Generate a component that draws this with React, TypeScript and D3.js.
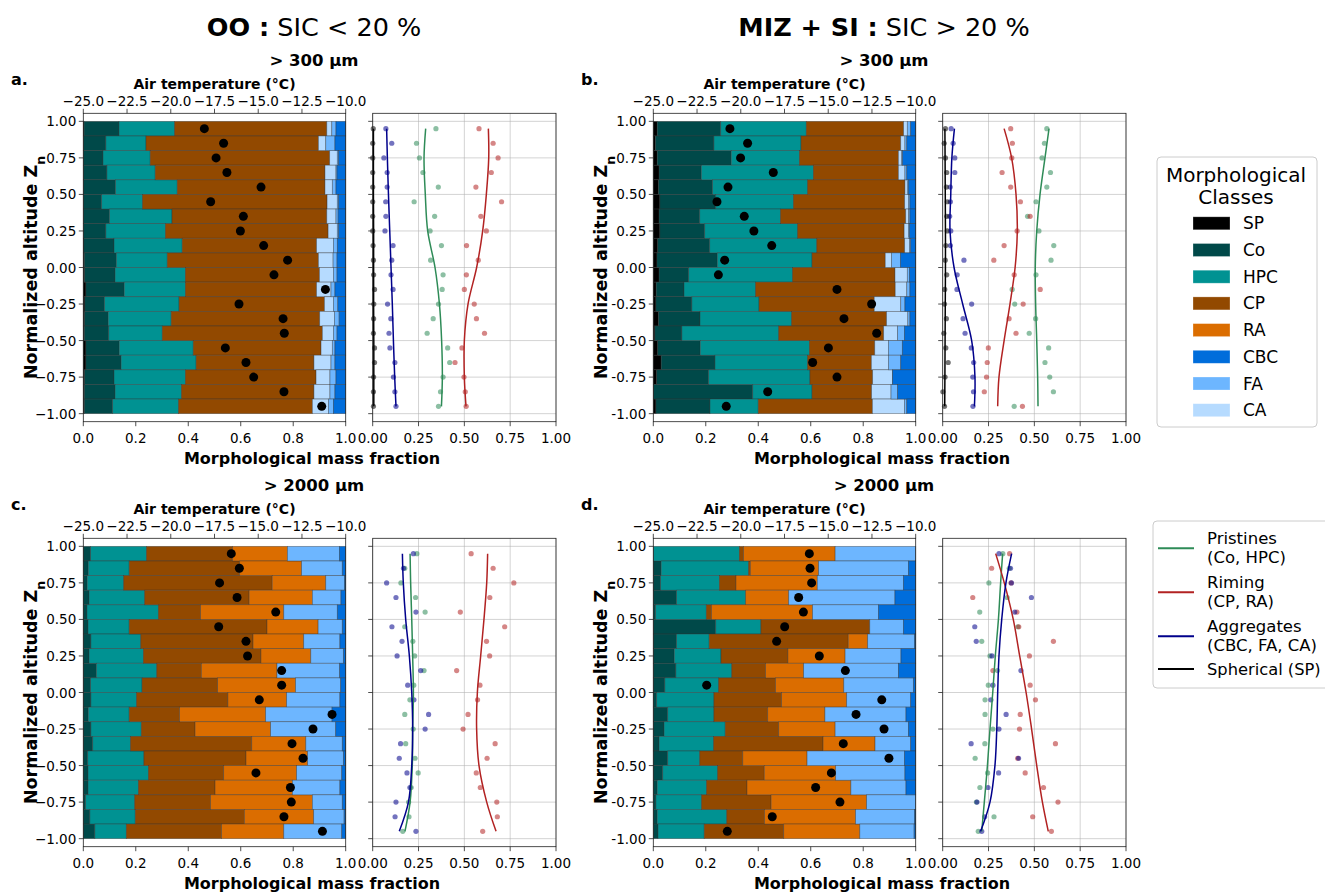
import React from "react";
import * as d3 from "d3";

// ---------- data ----------
const Z_LEVELS = [0.95, 0.85, 0.75, 0.65, 0.55, 0.45, 0.35, 0.25, 0.15, 0.05, -0.05, -0.15, -0.25, -0.35, -0.45, -0.55, -0.65, -0.75, -0.85, -0.95];
const CLASS_ORDER = ["SP", "Co", "HPC", "CP", "RA", "CA", "FA", "CBC"];
const LEGEND_CLASSES = ["SP", "Co", "HPC", "CP", "RA", "CBC", "FA", "CA"];
const CLASS_COLORS: Record<string, string> = {
  SP: "#000000", Co: "#004949", HPC: "#009292", CP: "#924900",
  RA: "#db6d00", CBC: "#006ddb", FA: "#6db6ff", CA: "#b6dbff",
};

// panel a: OO, > 300 µm
const A_SP = [0.003, 0, 0, 0, 0, 0, 0, 0, 0.002, 0.004, 0.005, 0.010, 0.006, 0.005, 0.004, 0.010, 0.010, 0.005, 0.004, 0.004];
const A_Co = [0.133, 0.086, 0.075, 0.090, 0.123, 0.070, 0.100, 0.086, 0.115, 0.122, 0.116, 0.146, 0.075, 0.090, 0.093, 0.127, 0.134, 0.112, 0.117, 0.108];
const A_HPC = [0.212, 0.153, 0.180, 0.184, 0.235, 0.156, 0.238, 0.227, 0.260, 0.194, 0.268, 0.233, 0.284, 0.240, 0.204, 0.282, 0.286, 0.272, 0.253, 0.251];
const A_CP = [0.580, 0.657, 0.684, 0.647, 0.563, 0.703, 0.590, 0.620, 0.512, 0.576, 0.511, 0.500, 0.554, 0.566, 0.610, 0.487, 0.449, 0.498, 0.505, 0.510];
const A_CA = [0.019, 0.028, 0.029, 0.042, 0.028, 0.039, 0.035, 0.035, 0.064, 0.056, 0.053, 0.055, 0.034, 0.056, 0.042, 0.043, 0.065, 0.053, 0.061, 0.061];
const A_FA = [0.016, 0.035, 0.005, 0.004, 0.014, 0.005, 0.008, 0.005, 0.015, 0.015, 0.014, 0.015, 0.017, 0.018, 0.014, 0.010, 0.015, 0.023, 0.019, 0.019];
const A_CBC = [0.037, 0.041, 0.027, 0.033, 0.037, 0.027, 0.029, 0.027, 0.032, 0.033, 0.033, 0.041, 0.030, 0.025, 0.033, 0.041, 0.041, 0.037, 0.041, 0.047];
const A_TEMP = [-18.08, -16.98, -17.41, -16.79, -14.84, -17.72, -15.85, -16.02, -14.69, -13.32, -14.10, -11.16, -16.10, -13.58, -13.51, -16.88, -15.70, -15.26, -13.53, -11.37];

// panel b: MIZ + SI, > 300 µm
const B_SP = [0.015, 0.008, 0.015, 0.022, 0.020, 0.025, 0.022, 0.025, 0.017, 0.014, 0.022, 0.011, 0.010, 0.020, 0.006, 0.017, 0.030, 0.013, 0.001, 0.010];
const B_Co = [0.242, 0.223, 0.282, 0.161, 0.206, 0.213, 0.155, 0.171, 0.198, 0.230, 0.113, 0.106, 0.137, 0.158, 0.103, 0.162, 0.205, 0.198, 0.378, 0.206];
const B_HPC = [0.326, 0.332, 0.260, 0.427, 0.362, 0.296, 0.308, 0.354, 0.408, 0.361, 0.396, 0.273, 0.256, 0.349, 0.369, 0.416, 0.353, 0.386, 0.226, 0.184];
const B_CP = [0.371, 0.380, 0.377, 0.324, 0.371, 0.424, 0.477, 0.406, 0.335, 0.279, 0.390, 0.532, 0.439, 0.362, 0.400, 0.249, 0.243, 0.239, 0.227, 0.435];
const B_CA = [0.014, 0.016, 0.013, 0.025, 0.009, 0.014, 0.011, 0.016, 0.018, 0.024, 0.047, 0.044, 0.101, 0.081, 0.053, 0.052, 0.065, 0.075, 0.074, 0.122];
const B_FA = [0.013, 0.007, 0.003, 0.007, 0.004, 0.006, 0.005, 0.004, 0.005, 0.034, 0.008, 0.012, 0.016, 0.008, 0.026, 0.053, 0.047, 0.001, 0.025, 0.009];
const B_CBC = [0.019, 0.034, 0.050, 0.034, 0.028, 0.022, 0.022, 0.024, 0.019, 0.058, 0.024, 0.022, 0.041, 0.022, 0.043, 0.051, 0.057, 0.088, 0.069, 0.034];
const B_TEMP = [-20.62, -19.61, -20.01, -18.14, -20.73, -21.36, -19.80, -19.25, -18.23, -20.92, -21.28, -14.50, -12.52, -14.10, -12.23, -14.99, -15.89, -14.50, -18.46, -20.83];

// panel c: OO, > 2000 µm
const C_Co = [0.028, 0.019, 0.015, 0.022, 0.014, 0.018, 0.029, 0.022, 0.050, 0.028, 0.029, 0.019, 0.029, 0.036, 0.017, 0.018, 0.018, 0.009, 0.025, 0.044];
const C_HPC = [0.213, 0.156, 0.139, 0.212, 0.272, 0.157, 0.190, 0.207, 0.230, 0.196, 0.174, 0.156, 0.192, 0.144, 0.214, 0.230, 0.192, 0.187, 0.173, 0.120];
const C_CP = [0.328, 0.421, 0.566, 0.398, 0.161, 0.525, 0.428, 0.448, 0.170, 0.288, 0.348, 0.192, 0.205, 0.462, 0.389, 0.287, 0.292, 0.289, 0.416, 0.363];
const C_RA = [0.209, 0.236, 0.204, 0.241, 0.317, 0.195, 0.193, 0.190, 0.288, 0.297, 0.224, 0.328, 0.288, 0.206, 0.235, 0.278, 0.295, 0.388, 0.264, 0.237];
const C_FA = [0.198, 0.155, 0.071, 0.109, 0.204, 0.092, 0.138, 0.124, 0.239, 0.172, 0.203, 0.253, 0.248, 0.139, 0.136, 0.172, 0.181, 0.114, 0.116, 0.221];
const C_CBC = [0.024, 0.013, 0.005, 0.018, 0.032, 0.013, 0.022, 0.009, 0.023, 0.019, 0.022, 0.052, 0.038, 0.013, 0.009, 0.015, 0.022, 0.013, 0.006, 0.015];
const C_TEMP = [-16.54, -16.08, -17.21, -16.21, -14.00, -17.26, -15.70, -15.61, -13.66, -13.66, -14.94, -10.78, -11.87, -13.07, -12.44, -15.13, -13.16, -13.11, -13.53, -11.33];

// panel d: MIZ + SI, > 2000 µm
const D_Co = [0, 0.030, 0.028, 0.089, 0.009, 0.238, 0.089, 0.080, 0.086, 0.044, 0.013, 0.055, 0.041, 0.022, 0.055, 0.036, 0.015, 0.010, 0.015, 0.018];
const D_HPC = [0.328, 0.333, 0.224, 0.263, 0.193, 0.172, 0.124, 0.178, 0.213, 0.205, 0.218, 0.176, 0.233, 0.208, 0.122, 0.209, 0.188, 0.174, 0.265, 0.176];
const D_CP = [0.016, 0.007, 0.063, 0, 0.020, 0.415, 0.530, 0.255, 0.129, 0.217, 0.258, 0.205, 0.204, 0.417, 0.164, 0.178, 0.154, 0.265, 0.144, 0.303];
const D_RA = [0.349, 0.260, 0.310, 0.164, 0.385, 0, 0.074, 0.218, 0.145, 0.260, 0.248, 0.218, 0.215, 0.198, 0.245, 0.272, 0.396, 0.364, 0.347, 0.290];
const D_FA = [0.307, 0.342, 0.328, 0.405, 0.251, 0.128, 0.178, 0.213, 0.361, 0.265, 0.244, 0.309, 0.279, 0.136, 0.371, 0.264, 0.210, 0.187, 0.224, 0.207];
const D_CBC = [0, 0.028, 0.047, 0.079, 0.142, 0.047, 0.005, 0.056, 0.066, 0.009, 0.019, 0.037, 0.028, 0.019, 0.043, 0.041, 0.037, 0, 0.005, 0.006];
const D_TEMP = [-16.08, -16.04, -15.95, -16.69, -16.42, -17.49, -17.95, -15.51, -14.02, -21.95, -11.94, -13.41, -11.81, -14.14, -11.53, -14.82, -15.72, -14.33, -18.20, -20.77];

// fitted trend curves, at these altitudes
const CURVE_Z = [0.95, 0.75, 0.5, 0.25, 0, -0.25, -0.5, -0.75, -0.95];
const A_FIT_PRI = [0.289, 0.28, 0.287, 0.30, 0.34, 0.364, 0.376, 0.38, 0.375];
const A_FIT_RIM = [0.631, 0.633, 0.62, 0.60, 0.567, 0.52, 0.50, 0.50, 0.509];
const A_FIT_AGG = [0.076, 0.08, 0.086, 0.093, 0.10, 0.107, 0.113, 0.12, 0.127];
const A_FIT_SP = [0.004, 0.004, 0.004, 0.005, 0.005, 0.005, 0.006, 0.006, 0.006];
const B_FIT_PRI = [0.58, 0.558, 0.531, 0.513, 0.505, 0.507, 0.513, 0.518, 0.52];
const B_FIT_RIM = [0.335, 0.376, 0.40, 0.407, 0.395, 0.367, 0.335, 0.307, 0.30];
const B_FIT_AGG = [0.064, 0.05, 0.044, 0.04, 0.062, 0.109, 0.158, 0.176, 0.173];
const B_FIT_SP = [0.012, 0.013, 0.014, 0.015, 0.015, 0.014, 0.013, 0.012, 0.011];
const C_FIT_PRI = [0.204, 0.207, 0.213, 0.218, 0.222, 0.218, 0.216, 0.204, 0.176];
const C_FIT_RIM = [0.627, 0.622, 0.607, 0.589, 0.571, 0.567, 0.58, 0.622, 0.673];
const C_FIT_AGG = [0.162, 0.167, 0.18, 0.2, 0.213, 0.218, 0.213, 0.195, 0.145];
const D_FIT_PRI = [0.327, 0.316, 0.304, 0.287, 0.273, 0.258, 0.244, 0.227, 0.213];
const D_FIT_RIM = [0.289, 0.336, 0.385, 0.42, 0.455, 0.485, 0.513, 0.544, 0.576];
const D_FIT_AGG = [0.376, 0.345, 0.322, 0.307, 0.30, 0.295, 0.285, 0.258, 0.207];

const Y_TICKS = [1, 0.75, 0.5, 0.25, 0, -0.25, -0.5, -0.75, -1];
const BAR_X_TICKS = [0, 0.2, 0.4, 0.6, 0.8, 1.0];
const LINE_X_TICKS = [0, 0.25, 0.5, 0.75, 1.0];
const TEMP_TICKS = [-25, -22.5, -20, -17.5, -15, -12.5, -10];

const GROUPS = [
  { key: "pri", label: ["Pristines", "(Co, HPC)"], classes: ["Co", "HPC"], color: "#2e8b57" },
  { key: "rim", label: ["Riming", "(CP, RA)"], classes: ["CP", "RA"], color: "#b22222" },
  { key: "agg", label: ["Aggregates", "(CBC, FA, CA)"], classes: ["CBC", "FA", "CA"], color: "#00008b" },
  { key: "sp", label: ["Spherical (SP)"], classes: ["SP"], color: "#000000" },
];

type PanelDef = {
  letter: string; subtitle: string; dx: number; dy: number; hyphen: boolean;
  classes: Record<string, number[]>; temp: number[];
  fits: Record<string, number[]>;
};

const PANELS: PanelDef[] = [
  { letter: "a.", subtitle: "> 300 µm", dx: 0, dy: 0, hyphen: false,
    classes: { SP: A_SP, Co: A_Co, HPC: A_HPC, CP: A_CP, CA: A_CA, FA: A_FA, CBC: A_CBC }, temp: A_TEMP,
    fits: { pri: A_FIT_PRI, rim: A_FIT_RIM, agg: A_FIT_AGG, sp: A_FIT_SP } },
  { letter: "b.", subtitle: "> 300 µm", dx: 570, dy: 0, hyphen: true,
    classes: { SP: B_SP, Co: B_Co, HPC: B_HPC, CP: B_CP, CA: B_CA, FA: B_FA, CBC: B_CBC }, temp: B_TEMP,
    fits: { pri: B_FIT_PRI, rim: B_FIT_RIM, agg: B_FIT_AGG, sp: B_FIT_SP } },
  { letter: "c.", subtitle: "> 2000 µm", dx: 0, dy: 425, hyphen: false,
    classes: { Co: C_Co, HPC: C_HPC, CP: C_CP, RA: C_RA, FA: C_FA, CBC: C_CBC }, temp: C_TEMP,
    fits: { pri: C_FIT_PRI, rim: C_FIT_RIM, agg: C_FIT_AGG } },
  { letter: "d.", subtitle: "> 2000 µm", dx: 570, dy: 425, hyphen: true,
    classes: { Co: D_Co, HPC: D_HPC, CP: D_CP, RA: D_RA, FA: D_FA, CBC: D_CBC }, temp: D_TEMP,
    fits: { pri: D_FIT_PRI, rim: D_FIT_RIM, agg: D_FIT_AGG } },
];

const FONT = "DejaVu Sans, Verdana, sans-serif";
const TICK_FS = 13.5;

function Panel({ p }: { p: PanelDef }) {
  const { dx, dy } = p;
  const xB = d3.scaleLinear().domain([0, 1]).range([83.3 + dx, 345.7 + dx]);
  const xT = d3.scaleLinear().domain([-25, -10]).range([83.3 + dx, 345.7 + dx]);
  const xL = d3.scaleLinear().domain([0, 1]).range([372.7 + dx, 556 + dx]);
  const y = d3.scaleLinear().domain([-1.055, 1.055]).range([421.7 + dy, 113.3 + dy]);
  const [yBot, yTop] = y.range();

  const rows = Z_LEVELS.map((z, i) => {
    const o: Record<string, number> = { z };
    CLASS_ORDER.forEach((k) => { o[k] = p.classes[k] ? p.classes[k][i] : 0; });
    return o;
  });
  const series = d3.stack<Record<string, number>>().keys(CLASS_ORDER)(rows);

  const fmtY = (v: number) => {
    const s = d3.format(".2f")(v);
    return p.hyphen ? s.replace("\u2212", "-") : s;
  };

  const line = d3.line<[number, number]>()
    .x((d) => xL(d[0]))
    .y((d) => y(d[1]))
    .curve(d3.curveCatmullRom.alpha(0.5));

  const groups = GROUPS.filter((g) => g.key !== "sp" || p.classes.SP);

  const barMid = (xB(0) + xB(1)) / 2;
  const pairMid = 314 + dx;

  return (
    <g>
      {/* subtitle and panel letter */}
      <text x={pairMid} y={66 + dy} textAnchor="middle" fontSize={16.5} fontWeight="bold" fontFamily={FONT}>{p.subtitle}</text>
      <text x={11 + dx} y={85 + dy} fontSize={16} fontWeight="bold" fontFamily={FONT}>{p.letter}</text>

      {/* ---- bar panel ---- */}
      {series.map((s) => (
        <g key={s.key} fill={CLASS_COLORS[s.key]}>
          {s.map((d, i) => {
            const w = xB(d[1]) - xB(d[0]);
            if (w <= 0.01) return null;
            const z = Z_LEVELS[i];
            return (
              <rect key={i} x={xB(d[0])} y={y(z + 0.05)} width={w} height={y(z - 0.05) - y(z + 0.05)}
                stroke="#333" strokeOpacity={0.55} strokeWidth={0.7} />
            );
          })}
        </g>
      ))}
      {p.temp.map((t, i) => (
        <circle key={i} cx={xT(t)} cy={y(Z_LEVELS[i])} r={4.5} fill="#000" />
      ))}
      <rect x={xB(0)} y={yTop} width={xB(1) - xB(0)} height={yBot - yTop} fill="none" stroke="#222" strokeWidth={0.8} />
      {/* left ticks */}
      {Y_TICKS.map((t) => (
        <g key={t}>
          <line x1={xB(0) - 4.5} x2={xB(0)} y1={y(t)} y2={y(t)} stroke="#222" strokeWidth={0.8} />
          <text x={xB(0) - 7} y={y(t) + 5} textAnchor="end" fontSize={TICK_FS} fontFamily={FONT}>{fmtY(t)}</text>
        </g>
      ))}
      {/* bottom ticks */}
      {BAR_X_TICKS.map((t) => (
        <g key={t}>
          <line x1={xB(t)} x2={xB(t)} y1={yBot} y2={yBot + 4.5} stroke="#222" strokeWidth={0.8} />
          <text x={xB(t)} y={yBot + 11.5} dy="0.71em" textAnchor="middle" fontSize={TICK_FS} fontFamily={FONT}>{d3.format(".1f")(t)}</text>
        </g>
      ))}
      {/* top temperature axis */}
      {TEMP_TICKS.map((t) => (
        <g key={t}>
          <line x1={xT(t)} x2={xT(t)} y1={yTop} y2={yTop - 4.5} stroke="#222" strokeWidth={0.8} />
          <text x={xT(t)} y={yTop - 7.5} textAnchor="middle" fontSize={TICK_FS} fontFamily={FONT}>{d3.format(".1f")(t)}</text>
        </g>
      ))}
      <text x={barMid} y={89 + dy} textAnchor="middle" fontSize={14} fontWeight="bold" fontFamily={FONT}>Air temperature (°C)</text>
      <text transform={`translate(${37 + dx},${(yTop + yBot) / 2}) rotate(-90)`} textAnchor="middle" fontSize={17.5} fontWeight="bold" fontFamily={FONT}>
        Normalized altitude Z<tspan baselineShift="sub" fontSize={12.5}>n</tspan>
      </text>

      {/* ---- line panel ---- */}
      {LINE_X_TICKS.map((t) => (
        <line key={"gx" + t} x1={xL(t)} x2={xL(t)} y1={yTop} y2={yBot} stroke="#b0b0b0" strokeOpacity={0.7} strokeWidth={0.8} />
      ))}
      {Y_TICKS.map((t) => (
        <line key={"gy" + t} x1={xL(0)} x2={xL(1)} y1={y(t)} y2={y(t)} stroke="#b0b0b0" strokeOpacity={0.7} strokeWidth={0.8} />
      ))}
      {groups.map((g) => (
        <g key={g.key} fill={g.color} fillOpacity={0.55}>
          {Z_LEVELS.map((z, i) => {
            const v = d3.sum(g.classes, (k) => (p.classes[k] ? p.classes[k][i] : 0));
            return <circle key={i} cx={xL(v)} cy={y(z)} r={2.6} />;
          })}
        </g>
      ))}
      {groups.map((g) => {
        const fit = p.fits[g.key];
        if (!fit) return null;
        const pts = CURVE_Z.map((z, i) => [fit[i], z] as [number, number]);
        return <path key={"f" + g.key} d={line(pts) || ""} fill="none" stroke={g.color} strokeWidth={1.5} />;
      })}
      <rect x={xL(0)} y={yTop} width={xL(1) - xL(0)} height={yBot - yTop} fill="none" stroke="#222" strokeWidth={0.8} />
      {Y_TICKS.map((t) => (
        <line key={"ly" + t} x1={xL(0) - 4.5} x2={xL(0)} y1={y(t)} y2={y(t)} stroke="#222" strokeWidth={0.8} />
      ))}
      {LINE_X_TICKS.map((t) => (
        <g key={"lx" + t}>
          <line x1={xL(t)} x2={xL(t)} y1={yBot} y2={yBot + 4.5} stroke="#222" strokeWidth={0.8} />
          <text x={xL(t)} y={yBot + 11.5} dy="0.71em" textAnchor="middle" fontSize={TICK_FS} fontFamily={FONT}>{d3.format(".2f")(t)}</text>
        </g>
      ))}
      <text x={pairMid - 2} y={464 + dy} textAnchor="middle" fontSize={16} fontWeight="bold" fontFamily={FONT}>Morphological mass fraction</text>
    </g>
  );
}

function Legends() {
  const rowY = (i: number) => 223.3 + i * 26.7;
  return (
    <g fontFamily={FONT}>
      <rect x={1157} y={157} width={160} height={270} rx={4} fill="#fff" stroke="#cccccc" strokeWidth={1} />
      <text x={1236} y={182} textAnchor="middle" fontSize={20}>Morphological</text>
      <text x={1236} y={204} textAnchor="middle" fontSize={20}>Classes</text>
      {LEGEND_CLASSES.map((c, i) => (
        <g key={c}>
          <rect x={1193} y={rowY(i) - 6.5} width={37} height={13} fill={CLASS_COLORS[c]} stroke="#fff" strokeOpacity={0.4} strokeWidth={0.7} />
          <text x={1243} y={rowY(i) + 6} fontSize={17}>{c}</text>
        </g>
      ))}

      <rect x={1153} y={521} width={185} height={167} rx={4} fill="#fff" stroke="#cccccc" strokeWidth={1} />
      {GROUPS.map((g, i) => {
        const ly = i < 3 ? 548.3 + i * 44 : 669;
        return (
          <g key={g.key}>
            <line x1={1158} x2={1194} y1={ly} y2={ly} stroke={g.color} strokeWidth={2} />
            {g.label.length === 2 ? (
              <>
                <text x={1207} y={ly - 4} fontSize={16.5}>{g.label[0]}</text>
                <text x={1207} y={ly + 15} fontSize={16.5}>{g.label[1]}</text>
              </>
            ) : (
              <text x={1207} y={ly + 6} fontSize={16.3}>{g.label[0]}</text>
            )}
          </g>
        );
      })}
    </g>
  );
}

export default function App() {
  return (
    <svg width={1325} height={892} style={{ position: "absolute", left: 0, top: 0, display: "block", background: "#fff" }}>
      <rect x={0} y={0} width={1325} height={892} fill="#fff" />
      <text x={314} y={36} textAnchor="middle" fontSize={25.5} fontFamily={FONT}>
        <tspan fontWeight="bold">OO :</tspan> SIC &lt; 20 %
      </text>
      <text x={884} y={36} textAnchor="middle" fontSize={25.5} fontFamily={FONT}>
        <tspan fontWeight="bold">MIZ + SI :</tspan> SIC &gt; 20 %
      </text>
      {PANELS.map((p) => (
        <Panel key={p.letter} p={p} />
      ))}
      <Legends />
    </svg>
  );
}
